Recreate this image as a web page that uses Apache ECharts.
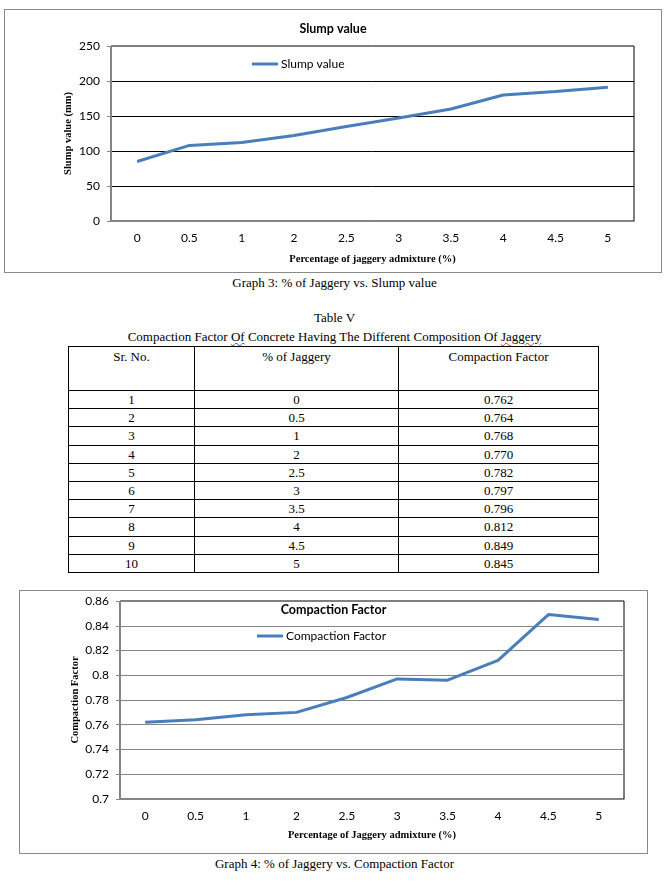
<!DOCTYPE html>
<html>
<head>
<meta charset="utf-8">
<script src="https://cdn.jsdelivr.net/npm/echarts@6/dist/echarts.min.js"></script>
<style>
  html, body { margin:0; padding:0; background:#fff; }
  body { width:669px; height:883px; position:relative; overflow:hidden; font-family:"Liberation Serif", "Times New Roman", serif; color:#000; }
  .box { position:absolute; box-sizing:border-box; border:1px solid #8a8a8a; }
  .cap { position:absolute; left:0; width:669px; text-align:center; font-size:13px; line-height:16px; }
  #tbl { position:absolute; left:68px; top:346px; width:530px; border-collapse:collapse; font-size:13px; table-layout:fixed; font-family:"Liberation Serif", serif; }
  #tbl td, #tbl th { border:1px solid #000; text-align:center; padding:0; font-weight:normal; }
  #tbl th { height:41px; vertical-align:top; padding-top:2px; }
  #tbl td { height:17.2px; line-height:15px; }
  .sq-red { text-decoration: underline wavy #e03030; text-decoration-thickness:1px; }
  .sq-blue { text-decoration: underline wavy #3050d0; text-decoration-thickness:1px; }
</style>
</head>
<body>
<div id="c1" class="box" style="left:4px;top:9px;width:658px;height:264px;"></div>
<div class="cap" style="top:275px;">Graph 3: % of Jaggery vs. Slump value</div>

<div class="cap" style="top:310px;">Table V</div>
<div class="cap" style="top:329px;">Compaction Factor <span class="sq-blue">Of</span> Concrete Having The Different Composition Of <span class="sq-red">Jaggery</span></div>
<table id="tbl"></table>

<div id="c2" class="box" style="left:19px;top:590px;width:629px;height:264px;"></div>
<div class="cap" style="top:856px;">Graph 4: % of Jaggery vs. Compaction Factor</div>

<script>
// ---- data ----
const categories = ['0', '0.5', '1', '2', '2.5', '3', '3.5', '4', '4.5', '5'];
const slumpValues = [85, 108, 112, 122, 135, 147, 160, 180, 185, 191];
const srNo = [1, 2, 3, 4, 5, 6, 7, 8, 9, 10];
const compactionFactor = [0.762, 0.764, 0.768, 0.770, 0.782, 0.797, 0.796, 0.812, 0.849, 0.845];
const tableHeaders = ['Sr. No.', '% of Jaggery', 'Compaction Factor'];

// ---- table ----
(function () {
  const t = document.getElementById('tbl');
  let html = '<colgroup><col style="width:126px"><col style="width:204px"><col style="width:200px"></colgroup>';
  html += '<tr>' + tableHeaders.map(h => '<th>' + h + '</th>').join('') + '</tr>';
  for (let i = 0; i < srNo.length; i++) {
    html += '<tr><td>' + srNo[i] + '</td><td>' + categories[i] + '</td><td>' + compactionFactor[i].toFixed(3) + '</td></tr>';
  }
  t.innerHTML = html;
})();

const SANS = 'Lato';
const SERIF = 'Liberation Serif';
const BLUE = '#4A7EBB';
const AXISGREY = '#868686';

function makeOption(cfg) {
  return {
    animation: false,
    title: {
      text: cfg.title, left: 'center', top: cfg.titleTop, padding: 0,
      textStyle: { fontFamily: SANS, fontSize: 12.5, fontWeight: 'bold', color: '#000' }
    },
    legend: {
      left: cfg.legendLeft, top: cfg.legendTop, padding: 0,
      icon: 'rect', itemWidth: 26, itemHeight: 3, itemGap: 0,
      textStyle: { fontFamily: SANS, fontSize: 12, color: '#000', padding: [0, 0, 0, -2] },
      data: [cfg.title]
    },
    grid: {
      left: cfg.grid.left, top: cfg.grid.top, width: cfg.grid.width, height: cfg.grid.height,
      show: true, borderColor: '#000', borderWidth: 1, containLabel: false
    },
    xAxis: {
      type: 'category', data: categories, boundaryGap: true,
      name: cfg.xName, nameLocation: 'middle', nameGap: cfg.xNameGap, nameMoveOverlap: false,
      nameTextStyle: { fontFamily: SERIF, fontSize: 10.5, fontWeight: 'bold', color: '#000' },
      axisLine: { lineStyle: { color: AXISGREY, width: 1 } },
      axisTick: { show: false },
      axisLabel: { fontFamily: SANS, fontSize: 12, color: '#000', margin: 11 }
    },
    yAxis: {
      type: 'value', min: cfg.yMin, max: cfg.yMax, interval: cfg.yInterval,
      name: cfg.yName, nameLocation: 'middle', nameGap: cfg.yNameGap, nameMoveOverlap: false,
      nameTextStyle: { fontFamily: SERIF, fontSize: 10.5, fontWeight: 'bold', color: '#000' },
      axisLine: { show: true, lineStyle: { color: AXISGREY, width: 1 } },
      axisTick: { show: true, length: 4, lineStyle: { color: AXISGREY } },
      axisLabel: { fontFamily: SANS, fontSize: 12, color: '#000', margin: 11 },
      splitLine: { show: true, showMinLine: false, showMaxLine: false, lineStyle: { color: cfg.splitColor, width: 1 } }
    },
    series: [{
      name: cfg.title, type: 'line', data: cfg.data,
      symbol: 'none', lineStyle: { color: BLUE, width: 3 }, itemStyle: { color: BLUE }
    }]
  };
}

const c1 = echarts.init(document.getElementById('c1'));
c1.setOption(makeOption({
  title: 'Slump value', titleTop: 12,
  legendLeft: 247, legendTop: 48,
  grid: { left: 106, top: 36, width: 523, height: 175 },
  xName: 'Percentage of jaggery admixture (%)', xNameGap: 33,
  yName: 'Slump value (mm)', yNameGap: 37,
  yMin: 0, yMax: 250, yInterval: 50,
  splitColor: '#000',
  data: slumpValues
}));

const c2 = echarts.init(document.getElementById('c2'));
c2.setOption(makeOption({
  title: 'Compaction Factor', titleTop: 12,
  legendLeft: 237, legendTop: 39,
  grid: { left: 100, top: 10, width: 504, height: 198 },
  xName: 'Percentage of Jaggery admixture (%)', xNameGap: 31,
  yName: 'Compaction Factor', yNameGap: 39,
  yMin: 0.7, yMax: 0.86, yInterval: 0.02,
  splitColor: AXISGREY,
  data: compactionFactor
}));
</script>
</body>
</html>
